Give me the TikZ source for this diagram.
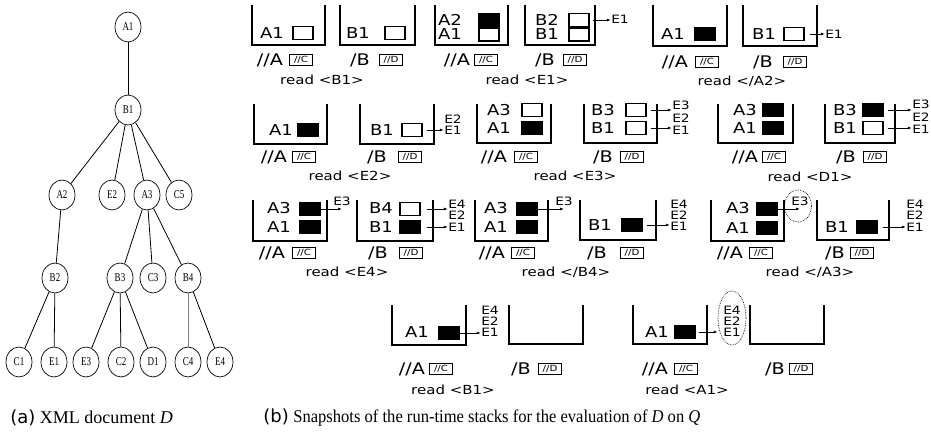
\documentclass[tikz,border=0pt]{standalone}
\usepackage{fontspec}
\setmainfont{Liberation Serif}
\newfontfamily\stkfont[FakeStretch=1.2]{DejaVu Sans}
\newfontfamily\capsans{DejaVu Sans}
\newfontfamily\treefont[FakeStretch=0.75]{Liberation Serif}
\newfontfamily\capnarrow[FakeStretch=0.92]{Liberation Serif}
\usetikzlibrary{shapes.geometric,arrows.meta}

\begin{document}
\begin{tikzpicture}[x=1pt, y=-1pt, line width=0.8pt,
  tnode/.style={ellipse, draw, line width=0.7pt, minimum width=26pt, minimum height=30pt, inner sep=0pt, font=\treefont\fontsize{12}{12}\selectfont},
  slbl/.style={inner sep=0pt, font=\stkfont\fontsize{15}{15}\selectfont},
  ulbl/.style={inner sep=0pt, font=\stkfont\fontsize{16}{16}\selectfont},
  emp/.style={draw, line width=1.1pt, minimum width=20pt, minimum height=13pt, inner sep=0pt},
  ful/.style={emp, fill=black},
  qbox/.style={draw, line width=1.2pt, minimum width=23pt, minimum height=11pt, inner sep=0pt, font=\stkfont\fontsize{8.5}{8.5}\selectfont},
  elbl/.style={inner sep=0pt, font=\stkfont\fontsize{11.5}{11.5}\selectfont},
  rdlbl/.style={inner sep=0pt, font=\stkfont\fontsize{12.5}{12.5}\selectfont},
  wall/.style={line width=1.2pt},
  ptr/.style={-{Latex[length=4pt,width=3pt]}, line width=0.8pt},
  hit/.style={ellipse, draw, densely dotted, line width=0.7pt, inner sep=0pt}]
  \useasboundingbox (0,0) rectangle (931,433);

  % (a) the document tree
  \node[tnode] (tA1) at (128,27) {A1};
  \node[tnode] (tB1) at (128,110) {B1};
  \node[tnode] (tA2) at (62,195) {A2};
  \node[tnode] (tE2) at (112,195) {E2};
  \node[tnode] (tA3) at (147,195) {A3};
  \node[tnode] (tC5) at (179,195) {C5};
  \node[tnode] (tB2) at (55,278) {B2};
  \node[tnode] (tB3) at (120,278) {B3};
  \node[tnode] (tC3) at (153,278) {C3};
  \node[tnode] (tB4) at (188,278) {B4};
  \node[tnode] (tC1) at (19,362) {C1};
  \node[tnode] (tE1) at (54,362) {E1};
  \node[tnode] (tE3) at (86,362) {E3};
  \node[tnode] (tC2) at (121,362) {C2};
  \node[tnode] (tD1) at (153,362) {D1};
  \node[tnode] (tC4) at (188,362) {C4};
  \node[tnode] (tE4) at (220,362) {E4};
  \draw (tA1) -- (tB1);
  \draw (tB1) -- (tA2);
  \draw (tB1) -- (tE2);
  \draw (tB1) -- (tA3);
  \draw (tB1) -- (tC5);
  \draw (tA2) -- (tB2);
  \draw (tB2) -- (tC1);
  \draw (tB2) -- (tE1);
  \draw (tA3) -- (tB3);
  \draw (tA3) -- (tC3);
  \draw (tA3) -- (tB4);
  \draw (tB3) -- (tE3);
  \draw (tB3) -- (tC2);
  \draw (tB3) -- (tD1);
  \draw[gray] (tB4) -- (tC4);
  \draw (tB4) -- (tE4);

  % (b) the stacks
  \foreach \l/\t/\r/\b in {252/5/325/45, 340/5/415/45, 435/5/508/45, 525/5/595/45, 653/5/727/46, 743/5/817/46,
      254/104/327/144, 360/104/434/144, 477/104/551/143, 584/104/657/143, 718/104/793/143, 825/104/895/143,
      253/200/327/241, 357/200/433/241, 475/200/548/241, 580/200/656/240, 711/200/784/241, 817/200/889/240,
      392/305/466/345, 509/305/583/344, 633/305/707/344, 750/305/824/344}
    \draw[wall] (\l,\t) |- (\r,\b) -- (\r,\t);

  \foreach \ax/\cx/\bx/\dx/\y in {270/301/360/391/60, 457/486/545/575/60, 675/707/763/795/62,
      274/304/377/410/157, 494/526/603/632/157, 745/774/846/875/157,
      272/304/378/411/253, 492/523/597/632/253, 730/761/835/862/253,
      412/441/521/550/369, 655/686/775/801/369}
  {
    \node[ulbl] (qa\ax) at (\ax,\y) {//A};
    \node[qbox] (qc\ax) at (\cx,\y) {//C};
    \node[ulbl] (qb\ax) at (\bx,\y) {/B};
    \node[qbox] (qd\ax) at (\dx,\y) {//D};
  }

  % read <B1>
  \node[slbl] (s1a1) at (272,33) {A1};
  \node[emp] (s1a1m) at (303,33) {};
  \node[slbl] (s1b1) at (358,33) {B1};
  \node[emp] (s1b1m) at (395,33) {};
  \node[rdlbl] (rd1) at (322,80) {read <B1>};

  % read <E1>
  \node[slbl] (s2a2) at (450,20) {A2};
  \node[ful] (s2a2m) at (489,20) {};
  \node[slbl] (s2a1) at (450,34) {A1};
  \node[emp] (s2a1m) at (489,34.5) {};
  \node[slbl] (s2b2) at (547,20) {B2};
  \node[emp] (s2b2m) at (579,20) {};
  \node[slbl] (s2b1) at (547,34) {B1};
  \node[emp] (s2b1m) at (579,34.5) {};
  \node[elbl] (s2e1) at (620,19) {E1};
  \draw[ptr] ([xshift=3pt]s2b2m.east) -- (s2b2m.east -| s2e1.west);
  \node[rdlbl] (rd2) at (527,80) {read <E1>};

  % read </A2>
  \node[slbl] (s3a1) at (673,34) {A1};
  \node[ful] (s3a1m) at (705,34) {};
  \node[slbl] (s3b1) at (764,34) {B1};
  \node[emp] (s3b1m) at (794,34) {};
  \node[elbl] (s3e1) at (834,34) {E1};
  \draw[ptr] ([xshift=5pt]s3b1m.east) -- (s3b1m.east -| s3e1.west);
  \node[rdlbl] (rd3) at (742,81) {read </A2>};

  % read <E2>
  \node[slbl] (s4a1) at (281,130) {A1};
  \node[ful] (s4a1m) at (308,130) {};
  \node[slbl] (s4b1) at (382,130) {B1};
  \node[emp] (s4b1m) at (412,130) {};
  \node[elbl] (s4e2) at (453,119) {E2};
  \node[elbl] (s4e1) at (453,130) {E1};
  \draw[ptr] ([xshift=4pt]s4b1m.east) -- (s4b1m.east -| s4e1.west);
  \node[rdlbl] (rd4) at (350,176) {read <E2>};

  % read <E3>
  \node[slbl] (s5a3) at (499,110) {A3};
  \node[emp] (s5a3m) at (532,110) {};
  \node[slbl] (s5a1) at (499,128) {A1};
  \node[ful] (s5a1m) at (532,128) {};
  \node[slbl] (s5b3) at (603,110) {B3};
  \node[emp] (s5b3m) at (636,110) {};
  \node[slbl] (s5b1) at (603,128) {B1};
  \node[emp] (s5b1m) at (636,128) {};
  \node[elbl] (s5e3) at (681,105) {E3};
  \node[elbl] (s5e2) at (681,118) {E2};
  \node[elbl] (s5e1) at (681,130) {E1};
  \draw[ptr] ([xshift=4pt]s5b3m.east) -- (s5b3m.east -| s5e3.west);
  \draw[ptr] ([xshift=4pt]s5b1m.east) -- (s5b1m.east -| s5e1.west);
  \node[rdlbl] (rd5) at (575,176) {read <E3>};

  % read <D1>
  \node[slbl] (s6a3) at (745,110) {A3};
  \node[ful] (s6a3m) at (773,110) {};
  \node[slbl] (s6a1) at (745,128) {A1};
  \node[ful] (s6a1m) at (773,128) {};
  \node[slbl] (s6b3) at (845,110) {B3};
  \node[ful] (s6b3m) at (873,110) {};
  \node[slbl] (s6b1) at (845,128) {B1};
  \node[emp] (s6b1m) at (873,128) {};
  \node[elbl] (s6e3) at (921,104) {E3};
  \node[elbl] (s6e2) at (921,117) {E2};
  \node[elbl] (s6e1) at (921,129) {E1};
  \draw[ptr] ([xshift=4pt]s6b3m.east) -- (s6b3m.east -| s6e3.west);
  \draw[ptr] ([xshift=4pt]s6b1m.east) -- (s6b1m.east -| s6e1.west);
  \node[rdlbl] (rd6) at (810,177) {read <D1>};

  % read <E4>
  \node[slbl] (s7a3) at (279,208) {A3};
  \node[ful] (s7a3m) at (310,209) {};
  \node[slbl] (s7a1) at (279,227) {A1};
  \node[ful] (s7a1m) at (310,227) {};
  \node[elbl] (s7e3) at (342,201) {E3};
  \draw[ptr] (s7a3m.east) -- (s7a3m.east -| s7e3.center);
  \node[slbl] (s7b4) at (381,208) {B4};
  \node[emp] (s7b4m) at (410,209) {};
  \node[slbl] (s7b1) at (381,227) {B1};
  \node[ful] (s7b1m) at (410,227) {};
  \node[elbl] (s7e4) at (457,204) {E4};
  \node[elbl] (s7e2) at (457,215) {E2};
  \node[elbl] (s7e1) at (457,227) {E1};
  \draw[ptr] ([xshift=6pt]s7b4m.east) -- (s7b4m.east -| s7e4.west);
  \draw[ptr] ([xshift=6pt]s7b1m.east) -- (s7b1m.east -| s7e1.west);
  \node[rdlbl] (rd7) at (347,272) {read <E4>};

  % read </B4>
  \node[slbl] (s8a3) at (496,208) {A3};
  \node[ful] (s8a3m) at (527,209) {};
  \node[slbl] (s8a1) at (496,227) {A1};
  \node[ful] (s8a1m) at (527,227) {};
  \node[elbl] (s8e3) at (564,201) {E3};
  \draw[ptr] (s8a3m.east) -- (s8a3m.east -| s8e3.center);
  \node[slbl] (s8b1) at (600,225) {B1};
  \node[ful] (s8b1m) at (632,225) {};
  \node[elbl] (s8e4) at (679,204) {E4};
  \node[elbl] (s8e2) at (679,215) {E2};
  \node[elbl] (s8e1) at (679,226) {E1};
  \draw[ptr] ([xshift=4pt]s8b1m.east) -- (s8b1m.east -| s8e1.west);
  \node[rdlbl] (rd8) at (566,272) {read </B4>};

  % read </A3>
  \node[slbl] (s9a3) at (738,208) {A3};
  \node[ful] (s9a3m) at (767,209) {};
  \node[slbl] (s9a1) at (738,228) {A1};
  \node[ful] (s9a1m) at (767,228) {};
  \node[elbl] (s9e3) at (800,201) {E3};
  \node[hit, minimum width=27pt, minimum height=32pt] (s9hit) at (798,206) {};
  \draw[ptr] (s9a3m.east) -- (s9a3m.east -| s9e3.center);
  \node[slbl] (s9b1) at (837,227) {B1};
  \node[ful] (s9b1m) at (867,227) {};
  \node[elbl] (s9e4) at (915,204) {E4};
  \node[elbl] (s9e2) at (915,215) {E2};
  \node[elbl] (s9e1) at (915,227) {E1};
  \draw[ptr] ([xshift=5pt]s9b1m.east) -- (s9b1m.east -| s9e1.west);
  \node[rdlbl] (rd9) at (810,272) {read </A3>};

  % read <B1>
  \node[slbl] (s10a1) at (417,332) {A1};
  \node[ful] (s10a1m) at (449,333) {};
  \node[elbl] (s10e4) at (490,310) {E4};
  \node[elbl] (s10e2) at (490,321) {E2};
  \node[elbl] (s10e1) at (490,332) {E1};
  \draw[ptr] (s10a1m.east) -- (s10a1m.east -| s10e1.west);
  \node[rdlbl] (rd10) at (453,390) {read <B1>};

  % read <A1>
  \node[slbl] (s11a1) at (657,332) {A1};
  \node[ful] (s11a1m) at (685,332) {};
  \node[elbl] (s11e4) at (732,310) {E4};
  \node[elbl] (s11e2) at (732,321) {E2};
  \node[elbl] (s11e1) at (732,332) {E1};
  \node[hit, minimum width=28pt, minimum height=54pt] (s11hit) at (732,318) {};
  \draw[ptr] ([xshift=3pt]s11a1m.east) -- (s11a1m.east -| s11hit.west);
  \node[rdlbl] (rd11) at (687,390) {read <A1>};

  % captions
  \node[anchor=west, inner sep=0pt, font=\fontsize{18}{18}\selectfont] (capa) at (10,418) {{\capsans (a)}\ XML document \textit{D}};
  \node[anchor=west, inner sep=0pt, font=\fontsize{18}{18}\selectfont] (capb) at (263,418) {{\capsans (b)}\ {\capnarrow Snapshots of the run-time stacks for the evaluation of \textit{D} on \textit{Q}}};
\end{tikzpicture}
\end{document}
